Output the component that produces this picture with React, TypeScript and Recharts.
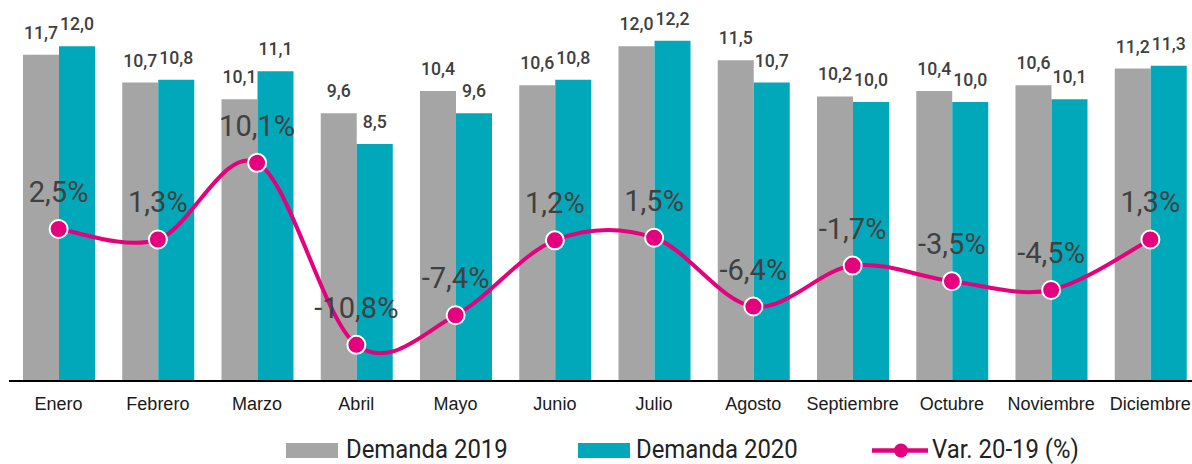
import React from 'react';
import { ComposedChart, Bar, Line, XAxis, YAxis, LabelList, Legend } from 'recharts';

const months = ['Enero', 'Febrero', 'Marzo', 'Abril', 'Mayo', 'Junio', 'Julio', 'Agosto', 'Septiembre', 'Octubre', 'Noviembre', 'Diciembre'];
const demanda2019 = [11.7, 10.7, 10.1, 9.6, 10.4, 10.6, 12.0, 11.5, 10.2, 10.4, 10.6, 11.2];
const demanda2020 = [12.0, 10.8, 11.1, 8.5, 9.6, 10.8, 12.2, 10.7, 10.0, 10.0, 10.1, 11.3];
const variacion = [2.5, 1.3, 10.1, -10.8, -7.4, 1.2, 1.5, -6.4, -1.7, -3.5, -4.5, 1.3];

const seriesNames = { d19: 'Demanda 2019', d20: 'Demanda 2020', v: 'Var. 20-19 (%)' };
const colors = { d19: '#A5A5A5', d20: '#00A8BA', v: '#E5007E' };

const data = months.map((m, i) => ({ month: m, d19: demanda2019[i], d20: demanda2020[i], v: variacion[i] }));

const DIN = "Roboto, 'Liberation Sans', sans-serif";
const REG = "'Liberation Sans', Arial, sans-serif";

const fmt = (v: number) => v.toFixed(1).replace('.', ',');

// Excel-like smoothed line (Catmull-Rom through points)
function smoothCurve(context: any) {
  let pts: number[][] = [];
  return {
    areaStart() {},
    areaEnd() {},
    lineStart() { pts = []; },
    point(x: number, y: number) { pts.push([+x, +y]); },
    lineEnd() {
      if (!pts.length) return;
      context.moveTo(pts[0][0], pts[0][1]);
      for (let i = 0; i < pts.length - 1; i++) {
        const p0 = pts[i - 1] || pts[i];
        const p1 = pts[i];
        const p2 = pts[i + 1];
        const p3 = pts[i + 2] || p2;
        context.bezierCurveTo(
          p1[0] + (p2[0] - p0[0]) / 6, p1[1] + (p2[1] - p0[1]) / 6,
          p2[0] - (p3[0] - p1[0]) / 6, p2[1] - (p3[1] - p1[1]) / 6,
          p2[0], p2[1]
        );
      }
    },
  };
}

const BarLabel = (props: any) => {
  const { x, y, width, value } = props;
  if (x == null || y == null) return null;
  const cx = x + width / 2;
  const by = y - 16;
  return (
    <text transform={`translate(${cx},${by}) scale(0.93,1)`} textAnchor="middle" fontFamily={DIN} fontSize={19} fontWeight={500} fill="#404040">
      {fmt(Number(value))}
    </text>
  );
};

const LineLabel = (props: any) => {
  const { x, y, value } = props;
  if (x == null || y == null) return null;
  return (
    <text transform={`translate(${x},${y - 27}) scale(0.97,1)`} textAnchor="middle" fontFamily={DIN} fontSize={30} fill="#404040">
      {fmt(Number(value))}%
    </text>
  );
};

const LegendText = ({ x, y, children }: any) => (
  <text transform={`translate(${x},${y}) scale(0.92,1)`} fontFamily={DIN} fontSize={26} fill="#222">{children}</text>
);

const LegendContent = () => (
  <svg width={1192} height={39} style={{ overflow: 'visible', display: 'block' }}>
    <rect x={286} y={18} width={52} height={15} fill={colors.d19} />
    <LegendText x={346} y={33}>{seriesNames.d19}</LegendText>
    <rect x={578} y={18} width={52} height={15} fill={colors.d20} />
    <LegendText x={636} y={33}>{seriesNames.d20}</LegendText>
    <line x1={872} x2={928} y1={25.5} y2={25.5} stroke={colors.v} strokeWidth={4.5} />
    <circle cx={901} cy={25.5} r={7} fill={colors.v} />
    <LegendText x={932} y={33}>{seriesNames.v}</LegendText>
  </svg>
);

export default function App() {
  return (
    <div style={{ position: 'absolute', left: 0, top: 0, width: 1192, height: 464, overflow: 'hidden', background: '#fff' }}>
      <ComposedChart
        width={1200}
        height={464}
        data={data}
        margin={{ top: 10, right: 0, bottom: 53, left: 9 }}
        barGap={0}
      >
        <XAxis
          dataKey="month"
          height={30}
          axisLine={{ stroke: '#000', strokeWidth: 2 }}
          tickLine={false}
          tickSize={6}
          tickMargin={10}
          tick={{ fontFamily: REG, fontSize: 18, fill: '#1a1a1a' }}
          interval={0}
        />
        <YAxis yAxisId="left" hide domain={[0, 13.3]} />
        <YAxis yAxisId="right" hide orientation="right" domain={[-14.95, 27.65]} />
        <Legend
          verticalAlign="middle"
          layout="horizontal"
          content={LegendContent}
          wrapperStyle={{ top: 425, left: 0, width: 1192, height: 39 }}
        />
        <Bar yAxisId="left" dataKey="d19" name={seriesNames.d19} fill={colors.d19} barSize={36} isAnimationActive={false}>
          <LabelList dataKey="d19" content={BarLabel} />
        </Bar>
        <Bar yAxisId="left" dataKey="d20" name={seriesNames.d20} fill={colors.d20} barSize={36} isAnimationActive={false}>
          <LabelList dataKey="d20" content={BarLabel} />
        </Bar>
        <Line
          yAxisId="right"
          dataKey="v"
          name={seriesNames.v}
          type={smoothCurve as any}
          stroke={colors.v}
          strokeWidth={4}
          dot={{ r: 9, fill: colors.v, stroke: '#fff', strokeWidth: 2 }}
          activeDot={false}
          isAnimationActive={false}
        >
          <LabelList dataKey="v" content={LineLabel} />
        </Line>
      </ComposedChart>
    </div>
  );
}
